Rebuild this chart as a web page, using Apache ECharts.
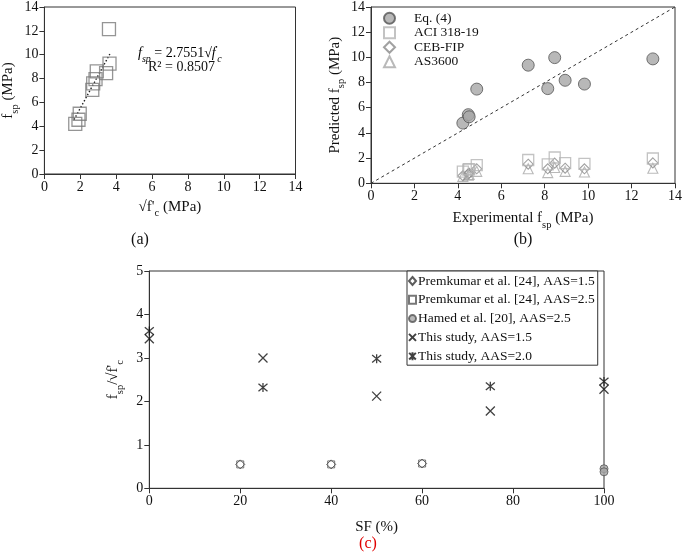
<!DOCTYPE html>
<html><head><meta charset="utf-8">
<script src="https://cdn.jsdelivr.net/npm/echarts@6/dist/echarts.min.js"></script>
<style>html,body{margin:0;padding:0;background:#fff}#c{width:685px;height:559px}</style>
</head><body><div id="c"></div>
<script>
// ---------- (a) ----------
const aSqrtFc = [3.60, 3.63, 3.44, 2.92, 2.85, 2.72, 2.67, 1.97, 1.90, 1.72];
const aFsp    = [12.15, 9.25, 8.45, 8.60, 7.95, 7.60, 7.05, 5.05, 4.55, 4.20];
const aTrendX = [1.65, 3.65];
const aTrendY = [4.55, 10.06];
// ---------- (b) ----------
const bExp  = [4.23, 4.48, 4.52, 4.87, 7.24, 8.14, 8.46, 8.94, 9.83, 12.98];
const bEq4  = [4.78, 5.45, 5.28, 7.48, 9.38, 7.52, 9.98, 8.18, 7.88, 9.88];
const bACI  = [0.92, 1.08, 1.12, 1.45, 1.85, 1.50, 2.05, 1.60, 1.55, 1.97];
const bCEB  = [0.60, 0.75, 0.80, 1.15, 1.52, 1.15, 1.60, 1.20, 1.15, 1.62];
const bAS   = [0.55, 0.65, 0.70, 0.95, 1.15, 0.85, 1.25, 0.95, 0.90, 1.20];
const bDiag = [0, 14];
// ---------- (c) ----------
const cPrem15X = [20, 40, 60];   const cPrem15Y = [0.55, 0.55, 0.57];
const cPrem25X = [20, 40, 60];   const cPrem25Y = [0.55, 0.55, 0.57];
const cHamedX  = [100, 100];     const cHamedY  = [0.45, 0.38];
const cS15X = [0, 25, 50, 75, 100]; const cS15Y = [3.44, 3.00, 2.12, 1.78, 2.28];
const cS20X = [0, 25, 50, 75, 100]; const cS20Y = [3.62, 2.32, 2.98, 2.35, 2.46];

const FF = '"Liberation Serif", "Times New Roman", serif';
const zip = (xs, ys) => xs.map((x, i) => [x, ys[i]]);
const rich = {
  sub: {fontSize: 10.5, fontFamily: FF, color: '#111', verticalAlign: 'bottom', lineHeight: 12, padding: [0, 0, -3, 0]},
  n:   {fontSize: 15, fontFamily: FF, color: '#111', lineHeight: 18}
};
const nameStyle = {fontSize: 15, fontFamily: FF, color: '#111', rich: rich};

function vAxis(grid, min, max, interval, name, gap) {
  return {
    gridIndex: grid, type: 'value', min: min, max: max, interval: interval,
    axisLine: {show: true, onZero: false, lineStyle: {color: '#333', width: 1}},
    axisTick: {show: true, length: 5, lineStyle: {color: '#333'}},
    axisLabel: {color: '#111', fontSize: 14, fontFamily: FF, margin: 6,
      formatter: v => '{t|' + v + '}',
      rich: {t: {fontSize: 14, fontFamily: FF, color: '#111'}}},
    splitLine: {show: false},
    name: name, nameLocation: 'middle', nameGap: gap, nameTextStyle: nameStyle
  };
}

const crossPath = 'path://M0,0L10,10M10,0L0,10';
const starPath  = 'path://M0,0L10,10M10,0L0,10M5,-1L5,11';
const clear = 'rgba(255,255,255,0)';

const option = {
  animation: false,
  backgroundColor: '#fff',
  textStyle: {fontFamily: FF, color: '#111'},
  grid: [
    {left: 41.7, top: 6, width: 253.8, height: 168, show: true, borderColor: '#333', borderWidth: 1},
    {left: 371, top: 5.7, width: 307.3, height: 177.6, show: true, borderColor: '#333', borderWidth: 1},
    {left: 149.3, top: 271, width: 454.7, height: 217.3, show: true, borderColor: '#333', borderWidth: 1}
  ],
  xAxis: [
    vAxis(0, 0, 14, 2, '{n|√f\'}{sub|c}{n| (MPa)}', 24),
    vAxis(1, 0, 14, 2, '{n|Experimental f}{sub|sp}{n| (MPa)}', 26),
    vAxis(2, 0, 100, 20, '{n|SF (%)}', 30)
  ],
  yAxis: [
    vAxis(0, 0, 14, 2, '{n|f}{sub|sp}{n| (MPa)}', 22),
    vAxis(1, 0, 14, 2, '{n|Predicted f}{sub|sp}{n| (MPa)}', 24),
    vAxis(2, 0, 5, 1, '{n|f}{sub|sp}{n|/√f\'}{sub|c}', 26)
  ],
  legend: [
    {
      data: ['Eq. (4)', 'ACI 318-19', 'CEB-FIP', 'AS3600'],
      orient: 'vertical', left: 383, top: 11, padding: 0,
      itemWidth: 11, itemHeight: 11, itemGap: 0, selectedMode: false,
      textStyle: {fontSize: 13.5, fontFamily: FF, color: '#111', lineHeight: 14.5, padding: [0, 0, 0, 14]}
    },
    {
      data: ['Premkumar et al. [24], AAS=1.5', 'Premkumar et al. [24], AAS=2.5',
             'Hamed et al. [20], AAS=2.5', 'This study, AAS=1.5', 'This study, AAS=2.0'],
      orient: 'vertical', left: 407, top: 271, padding: [2, 3, 1, 1],
      itemWidth: 7, itemHeight: 8, itemGap: 2.8, selectedMode: false,
      borderColor: '#333', borderWidth: 1, backgroundColor: '#fff',
      textStyle: {fontSize: 13.5, fontFamily: FF, color: '#111', lineHeight: 16, padding: [0, 0, 0, -3]}
    }
  ],
  graphic: [
    {type: 'text', left: 138, top: 45, style: {
      text: '{i|f}{is|sp}{n| = 2.7551√}{i|f}{up|\'}{is|c}',
      rich: {
        i: {fontSize: 14, fontFamily: FF, fontStyle: 'italic', color: '#111', lineHeight: 16},
        is: {fontSize: 10, fontFamily: FF, fontStyle: 'italic', color: '#111', verticalAlign: 'bottom', lineHeight: 10, padding: [0, 0, -3, 0]},
        up: {fontSize: 9, fontFamily: FF, color: '#111', verticalAlign: 'top', lineHeight: 10},
        n: {fontSize: 14, fontFamily: FF, color: '#111', lineHeight: 16}
      }
    }},
    {type: 'text', left: 148, top: 60, style: {text: 'R² = 0.8507', fontSize: 14, fontFamily: FF, fill: '#111'}},
    {type: 'text', x: 140, y: 240, style: {text: '(a)', fontSize: 16, fontFamily: FF, fill: '#111', align: 'center', verticalAlign: 'middle'}},
    {type: 'text', x: 523, y: 240, style: {text: '(b)', fontSize: 16, fontFamily: FF, fill: '#111', align: 'center', verticalAlign: 'middle'}},
    {type: 'text', x: 368, y: 544, style: {text: '(c)', fontSize: 16, fontFamily: FF, fill: '#e00000', align: 'center', verticalAlign: 'middle'}}
  ],
  series: [
    // (a)
    {type: 'line', xAxisIndex: 0, yAxisIndex: 0, data: zip(aTrendX, aTrendY), symbol: 'none',
     lineStyle: {color: '#222', width: 1.4, type: [1.5, 2]}, z: 1},
    {type: 'scatter', xAxisIndex: 0, yAxisIndex: 0, data: zip(aSqrtFc, aFsp), symbol: 'rect', symbolSize: 13,
     itemStyle: {color: clear, borderColor: '#7a7a7a', borderWidth: 1.3}, z: 2},
    // (b)
    {type: 'line', xAxisIndex: 1, yAxisIndex: 1, data: zip(bDiag, bDiag), symbol: 'none',
     lineStyle: {color: '#333', width: 1, type: [3, 3]}, z: 1},
    {name: 'AS3600', type: 'scatter', xAxisIndex: 1, yAxisIndex: 1, data: zip(bExp, bAS), symbol: 'triangle', symbolSize: 10,
     itemStyle: {color: clear, borderColor: '#a8a8a8', borderWidth: 1.1}},
    {name: 'CEB-FIP', type: 'scatter', xAxisIndex: 1, yAxisIndex: 1, data: zip(bExp, bCEB), symbol: 'diamond', symbolSize: 10,
     itemStyle: {color: clear, borderColor: '#8a8a8a', borderWidth: 1.1}},
    {name: 'ACI 318-19', type: 'scatter', xAxisIndex: 1, yAxisIndex: 1, data: zip(bExp, bACI), symbol: 'rect', symbolSize: 11,
     itemStyle: {color: clear, borderColor: '#b4b4b4', borderWidth: 1.3}},
    {name: 'Eq. (4)', type: 'scatter', xAxisIndex: 1, yAxisIndex: 1, data: zip(bExp, bEq4), symbol: 'circle', symbolSize: 12,
     itemStyle: {color: '#a6a6a6', borderColor: '#555', borderWidth: 1}},
    // (c)
    {name: 'Premkumar et al. [24], AAS=1.5', type: 'scatter', xAxisIndex: 2, yAxisIndex: 2, data: zip(cPrem15X, cPrem15Y),
     symbol: 'diamond', symbolSize: 9, itemStyle: {color: clear, borderColor: '#333', borderWidth: 1}},
    {name: 'Premkumar et al. [24], AAS=2.5', type: 'scatter', xAxisIndex: 2, yAxisIndex: 2, data: zip(cPrem25X, cPrem25Y),
     symbol: 'rect', symbolSize: 7, itemStyle: {color: clear, borderColor: '#555', borderWidth: 1}},
    {name: 'Hamed et al. [20], AAS=2.5', type: 'scatter', xAxisIndex: 2, yAxisIndex: 2, data: zip(cHamedX, cHamedY),
     symbol: 'circle', symbolSize: 8, itemStyle: {color: '#a6a6a6', borderColor: '#555', borderWidth: 1}},
    {name: 'This study, AAS=1.5', type: 'scatter', xAxisIndex: 2, yAxisIndex: 2, data: zip(cS15X, cS15Y),
     symbol: crossPath, symbolSize: 9, itemStyle: {color: clear, borderColor: '#111', borderWidth: 1.3}},
    {name: 'This study, AAS=2.0', type: 'scatter', xAxisIndex: 2, yAxisIndex: 2, data: zip(cS20X, cS20Y),
     symbol: starPath, symbolSize: 9, itemStyle: {color: clear, borderColor: '#111', borderWidth: 1.3}}
  ]
};
const chart = echarts.init(document.getElementById('c'), null, {renderer: 'canvas'});
chart.setOption(option);
</script>
</body></html>
